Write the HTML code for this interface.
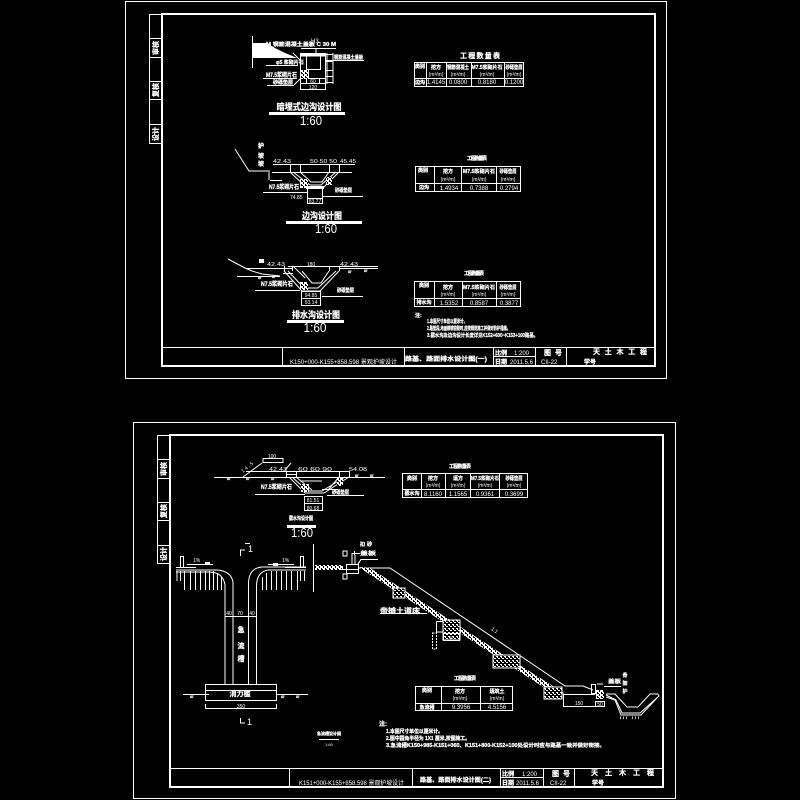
<!DOCTYPE html>
<html lang="zh"><head><meta charset="utf-8"><style>
html,body{margin:0;padding:0;background:#000;width:800px;height:800px;overflow:hidden}
svg{display:block}
.l{fill:none;stroke:#fff;stroke-width:1;shape-rendering:crispEdges}
.a{fill:none;stroke:#fff;stroke-width:1}
.b{fill:none;stroke:#fff;stroke-width:2;shape-rendering:crispEdges}
text{fill:#fff;font-family:"Liberation Sans","Noto Sans CJK SC",sans-serif;font-weight:700;stroke:#fff;stroke-width:.25}
.t4{font-size:4px}.t5{font-size:5px}.t6{font-size:6px}.t7{font-size:7px}.t9{font-size:9px}
.m{text-anchor:middle}
.n{font-weight:400;stroke:none}
.big{font-size:13px;font-weight:400;text-anchor:middle;stroke:none}
.g{fill:url(#gr);stroke:#fff;stroke-width:1}
</style></head><body>
<svg width="800" height="800" viewBox="0 0 800 800" xmlns="http://www.w3.org/2000/svg">
<defs>
<pattern id="gr" width="4" height="4" patternUnits="userSpaceOnUse">
<rect width="4" height="4" fill="#000"/><rect x="0" y="0" width="2" height="1" fill="#fff"/><rect x="2" y="2" width="2" height="1" fill="#fff"/><rect x="1" y="1" width="1" height="1" fill="#fff"/>
</pattern>
<pattern id="gd" width="4" height="4" patternUnits="userSpaceOnUse">
<rect width="4" height="4" fill="#fff"/><rect x="1" y="0" width="1" height="2" fill="#000"/><rect x="3" y="2" width="1" height="2" fill="#000"/><rect x="2" y="1" width="1" height="1" fill="#000"/>
</pattern>
</defs>
<rect width="800" height="800" fill="#000"/>

<!-- ============ TOP SHEET FRAME ============ -->
<rect class="l" x="125.5" y="1.5" width="541" height="377"/>
<rect class="b" x="162" y="14" width="493" height="352"/>
<path class="l" d="M162.5 347.5H655M282.5 347V366M404.5 347V366M493.5 347V366M535.5 347V366M566.5 347V366M494 356.5H535"/>
<rect class="l" x="149.5" y="14.5" width="13" height="129"/>
<path class="l" d="M149 38.5H162M149 57.5H162M149 81.5H162M149 99.5H162M149 124.5H162"/>
<text class="t7" transform="translate(158,48) rotate(-90)" text-anchor="middle">审核</text>
<text class="t7" transform="translate(158,90) rotate(-90)" text-anchor="middle">复核</text>
<text class="t7" transform="translate(158,134) rotate(-90)" text-anchor="middle">设计</text>

<text class="t6 n" x="290" y="364" textLength="107" lengthAdjust="spacingAndGlyphs">K150+000-K155+858.598 景观护坡设计</text>
<text class="t6" x="405" y="361" textLength="82" lengthAdjust="spacingAndGlyphs">路基、路面排水设计图(一)</text>
<text class="t6" x="495" y="355">比例</text><text class="t6 n" x="514" y="355">1:200</text>
<text class="t6" x="495" y="364">日期</text><text class="t6 n" x="510" y="364">2011.5.6</text>
<text class="t7" x="544" y="355" textLength="18">图 号</text><text class="t6 n" x="541" y="364">CII-22</text>
<text class="t7" x="593" y="354" textLength="54">天 土 木 工 程</text><text class="t6" x="584" y="364">学号</text>

<!-- Detail 1 -->
<path class="l" d="M252.5 36V68"/>
<polygon fill="#fff" points="252,43 267,43 275,48 283,52 290,55 297,58 252,58"/>
<rect class="l" x="300.5" y="53.500" width="25" height="36"/>
<rect class="l" x="306.5" y="55.5" width="14" height="14"/>
<rect class="b" x="301" y="54" width="24" height="1.5"/>
<rect class="l" x="306.5" y="78.5" width="13" height="5"/>
<path class="l" d="M300 78.5H326M300 83.5H326M316 49V54M301 48.5H336M326 54.5H333M326 61.5H333M326 70.5H333M326 76.5H333M326 82.5H333M326 60.5H364M327 53V84M333 53V84M283 65.5H298M266 65.5H298M263 78.5H297M267 85.5H294M294 85L300 79M293 53L300 60"/>
<rect x="301" y="70" width="8" height="9" fill="url(#gd)"/>
<text class="t6 n" x="311" y="43">H3</text>
<text class="t5" x="266" y="46" textLength="70" lengthAdjust="spacingAndGlyphs">M  钢筋混凝土盖板 C  30  M</text>
<text class="t5" x="276" y="64">φ5 浆砌片石</text>
<text class="t6" x="266" y="77" textLength="31" lengthAdjust="spacingAndGlyphs">M7.5浆砌片石</text>
<text class="t5" x="273" y="84">砂砾垫层</text>
<text class="t5" x="334" y="59" textLength="29" lengthAdjust="spacingAndGlyphs">钢筋混凝土盖板</text>
<text class="t5 n m" x="313" y="83">60</text>
<text class="t5 n m" x="313" y="89">120</text>
<text class="t9 m" x="309" y="110" textLength="65" lengthAdjust="spacingAndGlyphs">暗埋式边沟设计图</text>
<rect x="269" y="112" width="76" height="3" fill="#fff"/>
<text class="big" x="311" y="125" textLength="22" lengthAdjust="spacingAndGlyphs">1:60</text>

<!-- Table 1 -->
<text class="t7 m" x="480" y="58" textLength="40">工程数量表</text>
<rect class="l" x="414.5" y="62.5" width="109" height="24"/>
<path class="l" d="M414 78.5H524M426.5 62V86M446.5 62V86M471.5 62V86M504.5 62V86"/>
<text class="t5 m" x="420" y="68">类别</text><text class="t5 m" x="436" y="69">挖方</text><text class="t5 n m" x="436" y="76">(m³/m)</text>
<text class="t5 m" x="458" y="69" textLength="22" lengthAdjust="spacingAndGlyphs">钢筋混凝土</text><text class="t5 n m" x="458" y="76">(m³/m)</text>
<text class="t5 m" x="487" y="69" textLength="31" lengthAdjust="spacingAndGlyphs">M7.5浆砌片石</text><text class="t5 n m" x="487" y="76">(m³/m)</text>
<text class="t5 m" x="514" y="69" textLength="17" lengthAdjust="spacingAndGlyphs">砂砾垫层</text><text class="t5 n m" x="514" y="76">(m³/m)</text>
<text class="t5 m" x="420" y="84">边沟</text><text class="t6 n m" x="436" y="84">1.4145</text><text class="t6 n m" x="458" y="84">0.0800</text><text class="t6 n m" x="487" y="84">0.8180</text><text class="t6 n m" x="514" y="84">0.1200</text>

<!-- Detail 2 -->
<path class="a" d="M235 149L249 171H270"/>
<text class="t6" x="258" y="148">护</text><text class="t6" x="258" y="158">坡</text><text class="t6" x="258" y="166">坡</text>
<path class="l" d="M273 164.5H355M290.5 164V172M300.5 164V172M329.5 164V172M339.5 164V172M280 172.5H352"/>
<path class="a" d="M300 172L311 182H322L329 172M290 172L307 188H323L339 172M293 172L310 185H321L336 172"/>
<rect x="300" y="179" width="8" height="9" fill="url(#gd)"/>
<rect x="326" y="177" width="6" height="8" fill="url(#gd)"/>
<rect class="l" x="307.5" y="188.5" width="15" height="15"/>
<rect class="b" x="307" y="187" width="16" height="1"/>
<path class="l" d="M307 198.5H323M263 192.5H307M323 196.5H363M270 180.5H282M269 180V172M272 172.5H290"/>
<text class="t5 n" x="273" y="163" textLength="18" lengthAdjust="spacingAndGlyphs">42.43</text>
<text class="t5 n" x="310" y="163" textLength="27" lengthAdjust="spacingAndGlyphs">50 50 50</text>
<text class="t5 n" x="340" y="163" textLength="16" lengthAdjust="spacingAndGlyphs">45.45</text>
<text class="t6" x="269" y="189" textLength="30" lengthAdjust="spacingAndGlyphs">N7.5浆砌片石</text>
<text class="t5 n" x="290" y="199">74.85</text>
<text class="t5 n m" x="315" y="203">83.77</text>
<text class="t5" x="335" y="192" textLength="17" lengthAdjust="spacingAndGlyphs">砂砾垫层</text>
<text class="t9 m" x="322" y="219" textLength="40" lengthAdjust="spacingAndGlyphs">边沟设计图</text>
<rect x="286" y="221" width="76" height="3" fill="#fff"/>
<text class="big" x="326" y="233" textLength="22" lengthAdjust="spacingAndGlyphs">1:60</text>

<!-- Table 2 -->
<text class="t5 m" x="477" y="160" textLength="20">工程数量表</text>
<rect class="l" x="415.5" y="166.5" width="105" height="25"/>
<path class="l" d="M415 183.5H521M434.5 166V192M461.5 166V192M496.5 166V192"/>
<text class="t5 m" x="423" y="172">类别</text><text class="t5 m" x="448" y="173">挖方</text><text class="t5 n m" x="448" y="181">(m³/m)</text>
<text class="t5 m" x="479" y="173" textLength="32" lengthAdjust="spacingAndGlyphs">M7.5浆砌片石</text><text class="t5 n m" x="479" y="181">(m³/m)</text>
<text class="t5 m" x="508" y="173" textLength="17" lengthAdjust="spacingAndGlyphs">砂砾垫层</text><text class="t5 n m" x="508" y="181">(m³/m)</text>
<text class="t5 m" x="424" y="189">边沟</text><text class="t6 n m" x="449" y="190">1.4934</text><text class="t6 n m" x="479" y="190">0.7388</text><text class="t6 n m" x="509" y="190">0.2794</text>

<!-- Detail 3 -->
<path class="a" d="M228 259L245 268L252 271L262 274L280 276"/>
<rect x="259" y="259" width="5" height="4" fill="#fff"/>
<path class="l" d="M247 268.5H293M288 266.5H378M237 276.5H280M283 273.5H293M339 268.5H378"/>
<path class="l" d="M284.5 266V271M292.5 266V271M329.5 266V271M339.5 266V271"/>
<path class="a" d="M293 266L305 278M302 271L312 283H321L329 271M284 271L302 291H320L339 271M288 271L304 288H318L336 271"/>
<rect x="300" y="282" width="8" height="8" fill="url(#gd)"/>
<rect class="l" x="301.5" y="291.5" width="19" height="14"/>
<path class="l" d="M301 298.5H321M255 290.5H300M322 296.5H363"/>
<text class="t4" x="258" y="279">///</text><text class="t4" x="272" y="278">///</text><text class="t4" x="348" y="273">///</text><text class="t4" x="364" y="272">///</text>
<text class="t5 n" x="267" y="266" textLength="18" lengthAdjust="spacingAndGlyphs">42.43</text>
<text class="t5 n m" x="311" y="266">180</text>
<text class="t5 n" x="340" y="266" textLength="18" lengthAdjust="spacingAndGlyphs">42.43</text>
<text class="t6" x="261" y="286" textLength="32" lengthAdjust="spacingAndGlyphs">N7.5浆砌片石</text>
<text class="t5" x="337" y="292" textLength="17" lengthAdjust="spacingAndGlyphs">砂砾垫层</text>
<text class="t5 n m" x="311" y="297">94.85</text>
<text class="t5 n m" x="311" y="304">93.14</text>
<text class="t9 m" x="316" y="318" textLength="48" lengthAdjust="spacingAndGlyphs">排水沟设计图</text>
<rect x="287" y="320" width="57" height="3" fill="#fff"/>
<text class="big" x="315" y="332" textLength="23" lengthAdjust="spacingAndGlyphs">1:60</text>

<!-- Table 3 -->
<text class="t5 m" x="474" y="275" textLength="20">工程数量表</text>
<rect class="l" x="414.5" y="281.5" width="106" height="25"/>
<path class="l" d="M414 298.5H521M434.5 281V306M462.5 281V306M496.5 281V306"/>
<text class="t5 m" x="424" y="287">类别</text><text class="t5 m" x="448" y="289">挖方</text><text class="t5 n m" x="448" y="296">(m³/m)</text>
<text class="t5 m" x="479" y="289" textLength="32" lengthAdjust="spacingAndGlyphs">M7.5浆砌片石</text><text class="t5 n m" x="479" y="296">(m³/m)</text>
<text class="t5 m" x="508" y="289" textLength="17" lengthAdjust="spacingAndGlyphs">砂砾垫层</text><text class="t5 n m" x="508" y="296">(m³/m)</text>
<text class="t5 m" x="424" y="304">排水沟</text><text class="t6 n m" x="449" y="305">1.5352</text><text class="t6 n m" x="479" y="305">0.8587</text><text class="t6 n m" x="509" y="305">0.3877</text>
<text class="t5" x="415" y="317">注:</text>
<text class="t5" x="427" y="323" textLength="40" lengthAdjust="spacingAndGlyphs">1.本图尺寸单位以厘米计。</text>
<text class="t5" x="427" y="330" textLength="83" lengthAdjust="spacingAndGlyphs">2.路堑段,地面横坡较陡时,应按规范施工并做好防护措施。</text>
<text class="t5" x="427" y="337" textLength="111" lengthAdjust="spacingAndGlyphs">3.截水沟及边沟设计长度详见K152+600~K153+100路基。</text>

<!-- ============ BOTTOM SHEET FRAME ============ -->
<rect class="l" x="133.5" y="422.5" width="542" height="376"/>
<rect class="b" x="170" y="435" width="493" height="352"/>
<path class="l" d="M170 768.5H663M289.5 768V787M412.5 768V787M500.5 768V787M543.5 768V787M574.5 768V787M501 777.5H543"/>
<rect class="l" x="157.5" y="435.5" width="13" height="128"/>
<path class="l" d="M157 459.5H170M157 478.5H170M157 502.5H170M157 520.5H170M157 545.5H170"/>
<text class="t7" transform="translate(166,469) rotate(-90)" text-anchor="middle">审核</text>
<text class="t7" transform="translate(166,511) rotate(-90)" text-anchor="middle">复核</text>
<text class="t7" transform="translate(166,554) rotate(-90)" text-anchor="middle">设计</text>

<text class="t6 n" x="299" y="785" textLength="105" lengthAdjust="spacingAndGlyphs">K151+000-K155+858.598 景观护坡设计</text>
<text class="t6" x="420" y="782" textLength="71" lengthAdjust="spacingAndGlyphs">路基、路面排水设计图(二)</text>
<text class="t6" x="502" y="776">比例</text><text class="t6 n" x="522" y="776">1:200</text>
<text class="t6" x="502" y="785">日期</text><text class="t6 n" x="516" y="785">2011.5.6</text>
<text class="t7" x="552" y="776" textLength="18">图 号</text><text class="t6 n" x="550" y="785">CII-22</text>
<text class="t7" x="591" y="775" textLength="63">天 土 木 工 程</text><text class="t6" x="592" y="785">学号</text>

<!-- Detail 4 -->
<path class="l" d="M214 477.5H243M243 477.5H385M246 471.5H349M263 458.5H283V462.5H263Z"/>
<path class="a" d="M243 477L262 463M291 463L285 470"/>
<path class="l" d="M286.5 471V477M296.5 471V477M339.5 471V477M349.5 471V477M287 474.5H297"/>
<path class="a" d="M296 477L312 490M328 490L339 477M289 477L305 493H324L349 477M293 478L308 491H322L345 477"/>
<rect x="301" y="484" width="8" height="8" fill="url(#gd)"/>
<rect x="337" y="478" width="6" height="8" fill="url(#gd)"/>
<rect class="l" x="304.5" y="496.5" width="18" height="14"/>
<path class="l" d="M305 503.5H323M255 494.5H305M327 495.5H364M322 489.5H338M300 481H322"/>
<text class="t4" x="227" y="480">///</text><text class="t4" x="246" y="480">///</text><text class="t4" x="271" y="480">///</text><text class="t4" x="355" y="477">///</text><text class="t4" x="370" y="477">///</text>
<text class="t5 n" x="239" y="470" transform="rotate(-40 245 466)" textLength="14">14.5</text>
<text class="t5 n m" x="272" y="458">100</text>
<text class="t5 n" x="269" y="471" textLength="18" lengthAdjust="spacingAndGlyphs">42.43</text>
<text class="t5 n" x="298" y="471" textLength="34" lengthAdjust="spacingAndGlyphs">60  60  90</text>
<text class="t5 n" x="349" y="471" textLength="18" lengthAdjust="spacingAndGlyphs">54.08</text>
<text class="t6" x="261" y="489" textLength="31" lengthAdjust="spacingAndGlyphs">N7.5浆砌片石</text>
<text class="t5" x="332" y="494" textLength="17" lengthAdjust="spacingAndGlyphs">砂砾垫层</text>
<text class="t5 n m" x="313" y="502">81.51</text>
<text class="t5 n m" x="313" y="510">80.68</text>
<text class="t5 m" x="301" y="520" textLength="24" lengthAdjust="spacingAndGlyphs">截水沟设计图</text>
<rect x="287" y="525" width="29" height="3" fill="#fff"/>
<text class="big" x="302" y="537" textLength="22" lengthAdjust="spacingAndGlyphs">1:60</text>

<!-- Table 4 -->
<text class="t5 m" x="460" y="468" textLength="22">工程数量表</text>
<rect class="l" x="402.5" y="473.5" width="125" height="24"/>
<path class="l" d="M402 489.5H528M421.5 473V497M445.5 473V497M470.5 473V497M499.5 473V497"/>
<text class="t5 m" x="412" y="480">类别</text><text class="t5 m" x="433" y="480">挖方</text><text class="t5 n m" x="433" y="487">(m³/m)</text>
<text class="t5 m" x="458" y="480">填方</text><text class="t5 n m" x="458" y="487">(m³/m)</text>
<text class="t5 m" x="485" y="480" textLength="28" lengthAdjust="spacingAndGlyphs">M7.5浆砌片石</text><text class="t5 n m" x="485" y="487">(m³/m)</text>
<text class="t5 m" x="514" y="480" textLength="17" lengthAdjust="spacingAndGlyphs">砂砾垫层</text><text class="t5 n m" x="514" y="487">(m³/m)</text>
<text class="t5 m" x="412" y="495">截水沟</text><text class="t6 n m" x="433" y="496">8.1160</text><text class="t6 n m" x="458" y="496">1.1565</text><text class="t6 n m" x="485" y="496">0.9361</text><text class="t6 n m" x="514" y="496">0.3699</text>

<!-- Plan -->
<path class="l" d="M180.5 556V567M183.5 556V567M180 556.5H184M176 567.5H196M300.5 556V567M303.5 556V567M300 556.5H304M285 567.5H306"/>
<path class="l" d="M187 564.5H213M268 564.5H294"/>
<rect x="205" y="562" width="5" height="3" fill="#fff"/><rect x="273" y="563" width="5" height="3" fill="#fff"/>
<text class="t5 n" x="193" y="562">1%</text><text class="t5 n" x="282" y="562">1%</text>
<path class="a" d="M176 570H217Q231 571 233 582V684M176 572H209Q223 572 225 585V684"/>
<path class="a" d="M306 567H262Q249 568 248.500 583V684M306 570H268Q257 572 256.500 585V684"/>
<path class="l" d="M177 571V581M180.500 571V581M184.500 571V590M190.500 571V590M195.500 571V590M200.500 571V590M205.500 571V590M209.500 571V590M213.500 571V590M217.500 573V590M221.500 577V590"/>
<path class="l" d="M304.500 571V581M300.500 571V581M297.500 571V590M291.500 571V590M286.500 571V590M281.500 571V590M276.500 571V590M271.500 571V590M266.500 573V590M262.500 577V590"/>
<path class="l" d="M225 616.500H257"/>
<text class="t5 n" x="229" y="615" text-anchor="middle">40</text><text class="t5 n" x="240" y="615" text-anchor="middle">70</text><text class="t5 n" x="252" y="615" text-anchor="middle">40</text>
<text class="t7" x="241" y="632" text-anchor="middle">急</text><text class="t7" x="241" y="648" text-anchor="middle">流</text><text class="t7" x="241" y="661" text-anchor="middle">槽</text>
<path class="l" d="M240.500 550V556M240 550H245M245 543.500H250"/>
<text class="t9 n" x="248" y="552">1</text>
<rect class="l" x="205.500" y="684.500" width="71" height="16"/>
<path class="l" d="M205 690.500H277M183 694.500H209M277 694.500H308M205.500 704V708.500H276.500V704"/>
<rect x="205" y="700" width="72" height="1" fill="#fff"/>
<text class="t7" x="240" y="696" text-anchor="middle">消力槛</text>
<text class="t5 n" x="241" y="708" text-anchor="middle">350</text>
<text class="t4" x="190" y="698">///</text><text class="t4" x="281" y="698">///</text><text class="t4" x="296" y="698">///</text>
<path class="l" d="M240.500 718V723H245"/>
<text class="t9 n" x="247" y="725">1</text>
<text class="t4" x="329" y="735" text-anchor="middle">急流槽设计图</text>
<rect x="319" y="739" width="20" height="1" fill="#fff"/>
<text class="t4 n" x="329" y="746" text-anchor="middle">1:60</text>

<!-- Profile -->
<path class="l" d="M313.500 544V592"/>
<rect x="315" y="565" width="28" height="5" fill="url(#gd)"/>
<rect class="l" x="346.500" y="564.500" width="12" height="9"/>
<path class="l" d="M352 564V553.500H360M355 564V555M358 564L361 559.500H378M354.500 555V551M340 569.500H358"/>
<path class="l" d="M343 551H347V556H343ZM343 574H347V579H343Z"/>
<text class="t5" x="360" y="555" textLength="16" lengthAdjust="spacingAndGlyphs">盖板</text>
<text class="t5" x="360" y="546" textLength="12">扣砂</text>
<polyline class="a" points="359,568 385,568 390,568 565,686 583,686 593,690"/>
<polygon fill="url(#gd)" points="360,567 370,568 510,659 564,693 560,698 497,657 363,570"/>
<rect class="g" x="393" y="588" width="12" height="10"/>
<rect class="g" x="443" y="620" width="17" height="20"/>
<rect fill="#000" class="l" x="443.500" y="633.500" width="16" height="7"/>
<path class="l" d="M436.500 621.500V632H443M436.500 621.500H443"/>
<rect class="l" x="432.500" y="633" width="4" height="16" style="stroke-dasharray:2 1"/>
<text class="t4 n" x="451" y="639" text-anchor="middle">30</text>
<rect class="g" x="493" y="655" width="27" height="13"/>
<text class="t5 n" x="492" y="630" transform="rotate(35 492 628)">1:1</text>
<text class="t7" x="380" y="613" textLength="40" lengthAdjust="spacingAndGlyphs">帝摊土道床</text>
<path class="l" d="M380 613.500H427"/>
<rect class="g" x="544" y="687" width="18" height="12"/>
<path class="l" d="M563 694.500H595M563.500 694V706.500H604.500V702M591.500 686V694M597 684H603"/>
<rect class="l" x="591.500" y="684.500" width="4" height="9"/>
<rect x="596" y="690" width="8" height="9" fill="url(#gd)"/>
<rect class="l" x="595.500" y="701.500" width="9" height="5"/>
<text class="t5 n" x="579" y="705" text-anchor="middle">150</text>
<text class="t5 n" x="600" y="706" text-anchor="middle">50</text>
<path class="l" d="M604 686.500H621"/>
<text class="t5" x="608" y="683" textLength="13" lengthAdjust="spacingAndGlyphs">盖板</text>
<text class="t5" x="625" y="677" text-anchor="middle">骨</text><text class="t5" x="625" y="685" text-anchor="middle">架</text><text class="t5" x="625" y="693" text-anchor="middle">护</text>
<polyline class="a" points="606,694 615,694 627,707 638,707 650,694 658,694"/>
<polyline class="a" points="606,695 616,700 622,713 640,713 659,696 658,694"/>
<polyline class="a" points="606,697 615,700 621,715 641,715 657,698"/>
<text class="t4" x="620" y="719" textLength="19">/// ///</text>

<!-- Table 5 -->
<text class="t5 m" x="465" y="680" textLength="22">工程数量表</text>
<rect class="l" x="415.500" y="686.500" width="97" height="24"/>
<path class="l" d="M415 703.500H513M441.500 686V711M480.500 686V711"/>
<text class="t5 m" x="427" y="692">类别</text><text class="t5 m" x="460" y="693">挖方</text><text class="t5 n m" x="460" y="700">(m³/m)</text>
<text class="t5 m" x="497" y="693">填筑土</text><text class="t5 n m" x="497" y="700">(m³/m)</text>
<text class="t5 m" x="427" y="709">急流槽</text><text class="t6 n m" x="461" y="709">9.3956</text><text class="t6 n m" x="497" y="709">4.5156</text>
<text class="t6" x="379" y="726">注:</text>
<text class="t5" x="386" y="733" textLength="57" lengthAdjust="spacingAndGlyphs">1.本图尺寸单位以厘米计。</text>
<text class="t5" x="386" y="740" textLength="84" lengthAdjust="spacingAndGlyphs">2.图中圆角半径为 1X1 厘米,按图施工。</text>
<text class="t5" x="386" y="747" textLength="219" lengthAdjust="spacingAndGlyphs">3.急流槽K150+985-K151+060、K151+800-K152+100处设计时应与路基一致并做好衔接。</text>
</svg>
</body></html>
